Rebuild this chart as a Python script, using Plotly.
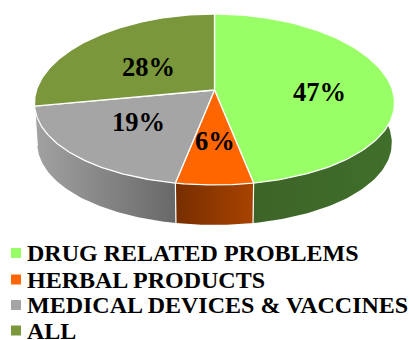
import numpy as np
import plotly.graph_objects as go

# Share of reports per category, in percent
categories = ["DRUG RELATED PROBLEMS", "HERBAL PRODUCTS", "MEDICAL DEVICES & VACCINES", "ALL"]
values = [47, 6, 19, 28]

top_colors = ["#99ff66", "#ff6600", "#a5a5a5", "#7a973b"]
side_colors = [
    ("#3f6f2a", "#3d6428"),
    ("#a84300", "#772e00"),
    ("#a2a2a2", "#686868"),
    ("#a2a2a2", "#a2a2a2"),
]
label_offsets = [(104.5, 2), (0, 51), (-76, 32), (-66, -23)]
legend_rows = [253, 279.5, 305, 330.5]

# Tilted disc: perspective projection of a unit circle onto the page
CX, CY = 214.5, 90
RX, RY, PERSP_X, PERSP_Y = 178.0, 84.4, 0.15, 0.111
DEPTH, FOOT_SCALE = 40, 0.985


def rim(theta_deg, depth=0.0, scale=1.0):
    t = np.radians(theta_deg)
    u, v = np.sin(t), np.cos(t)
    return CX + scale * RX * u / (1 + PERSP_X * v), CY - RY * v / (1 + PERSP_Y * v) + depth


edges = np.concatenate([[0], np.cumsum(values)]) * 3.6
fig = go.Figure()

# Outer wall of the pie, only the part that faces the viewer
for i in range(len(values)):
    a0, a1 = max(edges[i], 78), min(edges[i + 1], 282)
    if a1 <= a0:
        continue
    th = np.linspace(a0, a1, 80)
    xt, yt = rim(th)
    xb, yb = rim(th, DEPTH, FOOT_SCALE)
    fig.add_trace(go.Scatter(
        x=np.concatenate([xt, xb[::-1]]), y=np.concatenate([yt, yb[::-1]]),
        mode="lines", line=dict(width=0), fill="toself",
        fillgradient=dict(type="horizontal",
                          colorscale=[[0, side_colors[i][1 if th[0] < 180 else 0]],
                                      [1, side_colors[i][0 if th[0] < 180 else 1]]]),
        hoverinfo="skip", showlegend=False,
    ))

# Seams on the wall where the front wedge meets its neighbours
for a in edges[1:4]:
    xt, yt = rim(a)
    xb, yb = rim(a, DEPTH, FOOT_SCALE)
    fig.add_trace(go.Scatter(x=[xt, xb], y=[yt, yb], mode="lines",
                             line=dict(color="white", width=1.2),
                             hoverinfo="skip", showlegend=False))

# Top face of each wedge
for i, name in enumerate(categories):
    th = np.linspace(edges[i], edges[i + 1], 120)
    xr, yr = rim(th)
    fig.add_trace(go.Scatter(
        x=np.concatenate([[CX], xr, [CX]]), y=np.concatenate([[CY], yr, [CY]]),
        mode="lines", line=dict(color="white", width=1.3), fill="toself",
        fillcolor=top_colors[i], name=name, hoverinfo="name", showlegend=False,
    ))

# Value labels
for v, (dx, dy) in zip(values, label_offsets):
    fig.add_annotation(x=CX + dx, y=CY + dy, text=f"<b>{v}%</b>", showarrow=False,
                       font=dict(family="Liberation Serif", size=26.5, color="black"))

# Key below the pie
for name, color, row in zip(categories, top_colors, legend_rows):
    fig.add_trace(go.Scatter(x=[16], y=[row], mode="markers",
                             marker=dict(symbol="square", size=10, color=color),
                             hoverinfo="skip", showlegend=False))
    fig.add_annotation(x=24.5, y=row, text=f"<b>{name}</b>", showarrow=False,
                       xanchor="left", font=dict(family="Liberation Serif", size=24, color="black"))

fig.update_layout(
    width=409, height=340, margin=dict(l=0, r=0, t=0, b=0),
    paper_bgcolor="white", plot_bgcolor="white",
    xaxis=dict(range=[0, 409], visible=False, fixedrange=True),
    yaxis=dict(range=[340, 0], visible=False, fixedrange=True),
)
fig.write_html("out.html", config={"displayModeBar": False})
